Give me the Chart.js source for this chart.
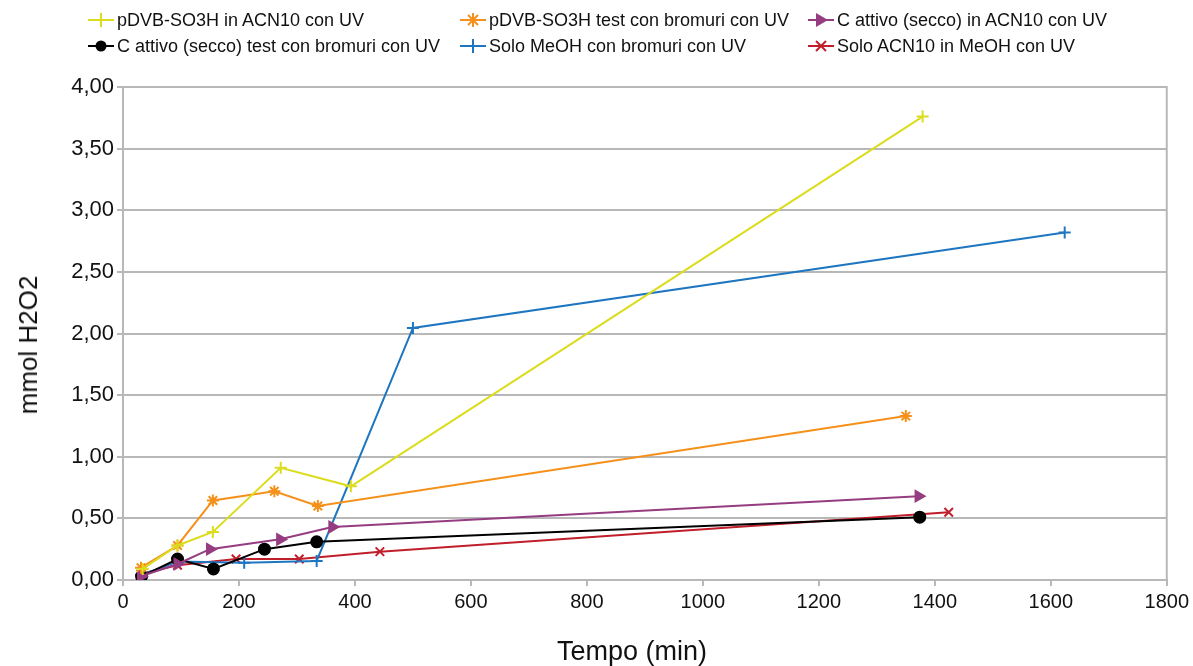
<!DOCTYPE html>
<html>
<head>
<meta charset="utf-8">
<script src="https://cdn.jsdelivr.net/npm/chart.js@4/dist/chart.umd.min.js"></script>
<style>
  html, body { margin: 0; padding: 0; background: #fff; }
  #wrap { position: relative; width: 1193px; height: 666px; }
  #c { position: absolute; left: 0; top: 0; }
  .leg { position: absolute; font-family: "Liberation Sans", Arial, sans-serif; font-size: 18px; color: #111;
         display: flex; align-items: center; white-space: nowrap; }
  .leg svg { margin-right: 3px; }
  .axt { position: absolute; font-family: "Liberation Sans", Arial, sans-serif; color: #111; white-space: nowrap;
         line-height: 1; transform: translate(-50%, -50%); }
  #xt { left: 632px; top: 651px; font-size: 27px; }
  #yt { left: 28px; top: 345px; font-size: 26px; transform: translate(-50%, -50%) rotate(-90deg); }
</style>
</head>
<body>
<div id="wrap">
  <canvas id="c" width="1193" height="666"></canvas>
  <div id="legend"></div>
  <div class="axt" id="xt">Tempo (min)</div>
  <div class="axt" id="yt">mmol H2O2</div>
</div>
<script>
// Reaction time (min) and H2O2 produced (mmol) for each test
const tempoPdvbAcn   = [34, 94, 155, 272, 393, 1379];
const h2o2PdvbAcn    = [0.09, 0.28, 0.39, 0.91, 0.76, 3.76];

const tempoPdvbBrom  = [31, 94, 155, 261, 336, 1350];
const h2o2PdvbBrom   = [0.10, 0.28, 0.645, 0.72, 0.60, 1.33];

const tempoCAcn      = [31, 94, 150, 271, 361, 1372];
const h2o2CAcn       = [0.03, 0.13, 0.25, 0.33, 0.43, 0.68];

const tempoCBrom     = [32, 94, 156, 244, 334, 1374];
const h2o2CBrom      = [0.03, 0.17, 0.09, 0.25, 0.31, 0.51];

const tempoMeohBrom  = [31, 94, 209, 334, 500, 1624];
const h2o2MeohBrom   = [0.04, 0.15, 0.14, 0.155, 2.045, 2.82];

const tempoAcnMeoh   = [31, 94, 195, 304, 443, 1424];
const h2o2AcnMeoh    = [0.05, 0.12, 0.17, 0.17, 0.23, 0.55];

const seriesNames = [
  "pDVB-SO3H in ACN10 con UV",
  "pDVB-SO3H test con bromuri con UV",
  "C attivo (secco) in ACN10 con UV",
  "C attivo (secco) test con bromuri con UV",
  "Solo MeOH con bromuri con UV",
  "Solo ACN10 in MeOH con UV"
];

const xTicks = [0, 200, 400, 600, 800, 1000, 1200, 1400, 1600, 1800];
const yTicks = [0, 0.5, 1, 1.5, 2, 2.5, 3, 3.5, 4];

const FONT = '"Liberation Sans", Arial, sans-serif';

function pts(xs, ys) { return xs.map((x, i) => ({ x: x, y: ys[i] })); }

const styles = [
  { color: '#dcdc1e', point: 'cross',    rot: 0,  r: 6 },
  { color: '#f5901a', point: 'star',     rot: 90, r: 6 },
  { color: '#963c80', point: 'triangle', rot: 90, r: 6 },
  { color: '#000000', point: 'circle',   rot: 0,  r: 5.5 },
  { color: '#1f76c0', point: 'cross',    rot: 0,  r: 6 },
  { color: '#c01e2a', point: 'crossRot', rot: 0,  r: 6 }
];

const series = [
  pts(tempoPdvbAcn, h2o2PdvbAcn),
  pts(tempoPdvbBrom, h2o2PdvbBrom),
  pts(tempoCAcn, h2o2CAcn),
  pts(tempoCBrom, h2o2CBrom),
  pts(tempoMeohBrom, h2o2MeohBrom),
  pts(tempoAcnMeoh, h2o2AcnMeoh)
];

const datasets = series.map((d, i) => ({
  label: seriesNames[i],
  data: d,
  borderColor: styles[i].color,
  backgroundColor: styles[i].color,
  borderWidth: 2,
  pointStyle: styles[i].point,
  pointRotation: styles[i].rot,
  pointRadius: styles[i].r,
  pointBorderWidth: 2,
  pointHoverRadius: styles[i].r,
  tension: 0
}));

// Frame around the plot area (top and right edges)
const frame = {
  id: 'frame',
  afterDatasetsDraw(chart) {
    const a = chart.chartArea, ctx = chart.ctx;
    ctx.save();
    ctx.strokeStyle = '#b8b8b8';
    ctx.lineWidth = 2;
    ctx.beginPath();
    ctx.moveTo(a.left, a.top);
    ctx.lineTo(a.right, a.top);
    ctx.lineTo(a.right, a.bottom);
    ctx.stroke();
    ctx.restore();
  }
};

new Chart(document.getElementById('c'), {
  type: 'line',
  data: { datasets: datasets },
  plugins: [frame],
  options: {
    responsive: false,
    animation: false,
    layout: { padding: { top: 87, right: 26, left: 0, bottom: 0 } },
    plugins: { legend: { display: false }, tooltip: { enabled: false } },
    scales: {
      x: {
        type: 'linear',
        min: 0, max: 1800,
        afterFit(s) { s.height = 86; },
        afterBuildTicks(s) { s.ticks = xTicks.map(v => ({ value: v })); },
        border: { color: '#b8b8b8', width: 2 },
        grid: { drawOnChartArea: false, color: '#b8b8b8', lineWidth: 2, tickLength: 6 },
        ticks: { color: '#111', font: { family: FONT, size: 20 }, padding: 4, maxRotation: 0,
                 callback: v => String(v) }
      },
      y: {
        type: 'linear',
        min: 0, max: 4,
        afterFit(s) { s.width = 123; },
        afterBuildTicks(s) { s.ticks = yTicks.map(v => ({ value: v })); },
        border: { color: '#b8b8b8', width: 2 },
        grid: { color: '#b8b8b8', lineWidth: 2, tickLength: 6 },
        ticks: { color: '#111', font: { family: FONT, size: 22 }, padding: 3,
                 callback: v => v.toFixed(2).replace('.', ',') }
      }
    }
  }
});

// Legend: two rows, three aligned columns
function glyph(st) {
  const c = st.color;
  let m = '';
  if (st.point === 'cross') {
    m = `<line x1="13" y1="6" x2="13" y2="20" stroke="${c}" stroke-width="2"/>`;
  } else if (st.point === 'star') {
    m = `<line x1="13" y1="6" x2="13" y2="20" stroke="${c}" stroke-width="2"/>
         <line x1="8" y1="8" x2="18" y2="18" stroke="${c}" stroke-width="2"/>
         <line x1="18" y1="8" x2="8" y2="18" stroke="${c}" stroke-width="2"/>`;
  } else if (st.point === 'triangle') {
    m = `<polygon points="8,6 20,13 8,20" fill="${c}"/>`;
  } else if (st.point === 'circle') {
    m = `<circle cx="13" cy="13" r="5.5" fill="${c}"/>`;
  } else if (st.point === 'crossRot') {
    m = `<line x1="8" y1="8" x2="18" y2="18" stroke="${c}" stroke-width="2"/>
         <line x1="18" y1="8" x2="8" y2="18" stroke="${c}" stroke-width="2"/>`;
  }
  return `<svg width="26" height="26" viewBox="0 0 26 26"><line x1="0" y1="13" x2="26" y2="13" stroke="${c}" stroke-width="2"/>${m}</svg>`;
}
const colX = [88, 460, 808];
const rowY = [7, 33];
const legendEl = document.getElementById('legend');
seriesNames.forEach((name, i) => {
  const d = document.createElement('div');
  d.className = 'leg';
  d.style.left = colX[i % 3] + 'px';
  d.style.top = rowY[Math.floor(i / 3)] + 'px';
  d.innerHTML = glyph(styles[i]) + '<span>' + name + '</span>';
  legendEl.appendChild(d);
});
</script>
</body>
</html>
